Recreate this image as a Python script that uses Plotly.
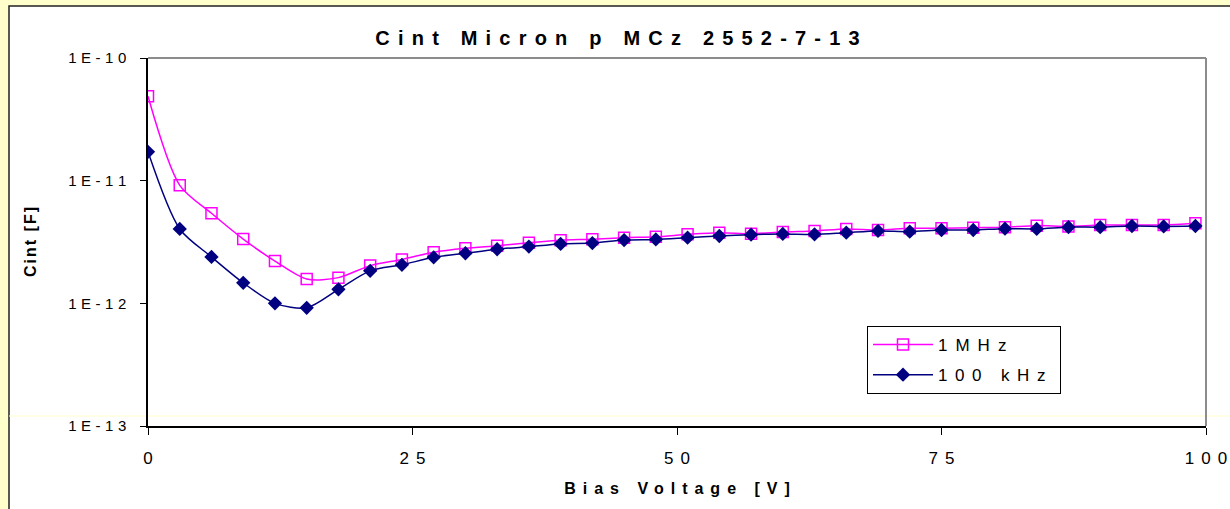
import plotly.graph_objects as go

voltage = [0, 3, 6, 9, 12, 15, 18, 21, 24, 27, 30, 33, 36, 39, 42, 45, 48,
           51, 54, 57, 60, 63, 66, 69, 72, 75, 78, 81, 84, 87, 90, 93, 96, 99]

cint_1mhz = [4.87e-11, 9.16e-12, 5.42e-12, 3.34e-12, 2.21e-12, 1.58e-12, 1.62e-12,
             2.03e-12, 2.28e-12, 2.61e-12, 2.81e-12, 2.95e-12, 3.12e-12, 3.27e-12,
             3.33e-12, 3.43e-12, 3.49e-12, 3.65e-12, 3.77e-12, 3.70e-12, 3.82e-12,
             3.89e-12, 4.04e-12, 3.96e-12, 4.09e-12, 4.09e-12, 4.14e-12, 4.18e-12,
             4.30e-12, 4.24e-12, 4.35e-12, 4.35e-12, 4.35e-12, 4.49e-12]

cint_100khz = [1.72e-11, 4.04e-12, 2.39e-12, 1.47e-12, 1.00e-12, 9.2e-13, 1.30e-12,
               1.84e-12, 2.06e-12, 2.37e-12, 2.56e-12, 2.76e-12, 2.90e-12, 3.05e-12,
               3.10e-12, 3.28e-12, 3.32e-12, 3.43e-12, 3.54e-12, 3.63e-12, 3.68e-12,
               3.65e-12, 3.77e-12, 3.89e-12, 3.84e-12, 3.96e-12, 3.96e-12, 4.06e-12,
               4.04e-12, 4.18e-12, 4.18e-12, 4.27e-12, 4.24e-12, 4.27e-12]

series_names = ["1MHz", "100 kHz"]
title_text = "Cint Micron p MCz 2552-7-13"
x_title = "Bias Voltage [V]"
y_title = "Cint [F]"
x_tickvals = [0, 25, 50, 75, 100]
x_ticktext = ["0", "25", "50", "75", "100"]
y_tickvals = [1e-10, 1e-11, 1e-12, 1e-13]
y_ticktext = ["1E-10", "1E-11", "1E-12", "1E-13"]

FONT = "Liberation Sans, Arial, sans-serif"


def sp(text, px, bold=False):
    # letter-spaced text, no trailing space after the last character
    if len(text) > 1:
        s = '<span style="letter-spacing:%spx">%s</span>%s' % (px, text[:-1], text[-1])
    else:
        s = text
    return "<b>%s</b>" % s if bold else s


fig = go.Figure()
fig.add_trace(go.Scatter(
    x=voltage, y=cint_1mhz, name=sp(series_names[0], 8) + "&nbsp;&nbsp;", legendgroup="a",
    mode="lines+markers",
    line=dict(color="#FF00FF", width=1.5, shape="spline", smoothing=0.8),
    marker=dict(symbol="square-open", size=11, color="#FF00FF",
                line=dict(color="#FF00FF", width=1.5)),
))
fig.add_trace(go.Scatter(
    x=voltage, y=cint_100khz, name=sp(series_names[1], 7.5) + "&nbsp;&nbsp;", legendgroup="b",
    mode="lines+markers",
    line=dict(color="#000080", width=1.5, shape="spline", smoothing=0.8),
    marker=dict(symbol="diamond", size=11, color="#000080",
                line=dict(color="#000080", width=0)),
))

L, R, T, B = 148, 24, 58, 83
W, H = 1230, 509
pw, ph = W - L - R, H - T - B


def px_x(p):
    return (p - L) / pw


def px_y(p):
    return (H - B - p) / ph


fig.update_layout(
    width=W, height=H,
    margin=dict(l=L, r=R, t=T, b=B, autoexpand=False),
    paper_bgcolor="#FFFFCC",
    plot_bgcolor="white",
    font=dict(family=FONT, color="black"),
    title=dict(text=sp(title_text, 8.2, bold=True), x=617.5 / W, xref="container",
               xanchor="center", y=1 - 38 / H, yref="container", yanchor="middle",
               font=dict(size=20, family=FONT, color="black")),
    showlegend=True,
    legend=dict(x=px_x(867), y=px_y(326), xanchor="left", yanchor="top",
                bgcolor="white", bordercolor="black", borderwidth=1,
                font=dict(size=17, family=FONT, color="black"),
                tracegroupgap=5, traceorder="grouped", itemwidth=60),
    xaxis=dict(range=[0, 100], tickvals=x_tickvals,
               ticktext=[sp(t, 7) for t in x_ticktext],
               showgrid=False, zeroline=False, showline=True, linecolor="black",
               linewidth=1.5, ticks="outside", ticklen=7, tickcolor="black",
               tickfont=dict(size=17, family=FONT, color="black"),
               ticklabelstandoff=9, ticklabeloverflow="allow", automargin=False,
               title=dict(text=sp(x_title, 7, bold=True), standoff=16,
                          font=dict(size=16, family=FONT, color="black"))),
    yaxis=dict(type="log", range=[-13, -10], tickvals=y_tickvals,
               ticktext=[sp(t, 4.5) for t in y_ticktext],
               showgrid=False, zeroline=False, showline=True, linecolor="black",
               linewidth=1.5, ticks="outside", ticklen=6, tickcolor="black",
               tickfont=dict(size=15, family=FONT, color="black"),
               ticklabelstandoff=11, ticklabeloverflow="allow", automargin=False,
               title=dict(text=sp(y_title, 2, bold=True), standoff=28,
                          font=dict(size=16, family=FONT, color="black"))),
    shapes=[
        dict(type="rect", xref="paper", yref="paper", layer="below",
             x0=px_x(9), x1=px_x(1260), y0=px_y(540), y1=px_y(6),
             fillcolor="white", line=dict(color="#222222", width=1.5)),
        dict(type="line", xref="paper", yref="paper", layer="below",
             x0=px_x(9), x1=px_x(1240), y0=px_y(416), y1=px_y(416),
             line=dict(color="#FFFFCC", width=1)),
        dict(type="line", xref="paper", yref="paper",
             x0=0, x1=1, y0=1, y1=1, line=dict(color="#8C8C8C", width=2)),
        dict(type="line", xref="paper", yref="paper",
             x0=1, x1=1, y0=0, y1=1, line=dict(color="#8C8C8C", width=2)),
    ],
)

fig.write_html("out.html")
